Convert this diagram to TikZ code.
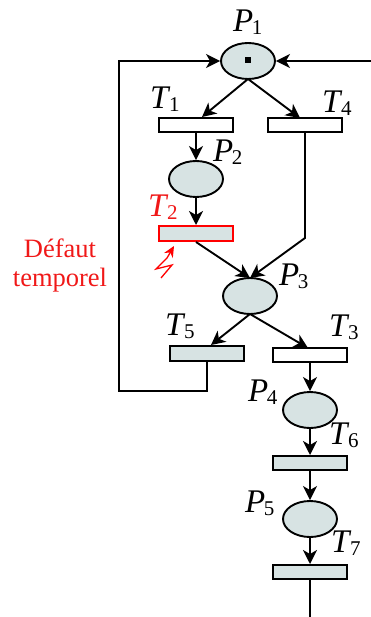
\documentclass[tikz,border=0pt]{standalone}
\usepackage{fontspec}
\setmainfont{Liberation Serif}
\usetikzlibrary{arrows.meta,shapes.geometric}
\definecolor{petri}{HTML}{D7E3E3}
\definecolor{defaut}{HTML}{F01818}
\newcommand{\lab}[2]{\textit{#1}\kern-1.5pt\raisebox{-3pt}{\fontsize{21}{21}\selectfont #2}}
\tikzset{
  pnplace/.style={ellipse,draw=black,line width=1.9pt,fill=petri,minimum width=54pt,minimum height=36pt,inner sep=0pt},
  pntrans/.style={rectangle,draw=black,line width=2pt,minimum width=74pt,minimum height=14pt,inner sep=0pt},
  greytrans/.style={pntrans,fill=petri},
  whitetrans/.style={pntrans,fill=white},
  pnlabel/.style={anchor=base west,inner sep=0pt,font=\fontsize{33}{33}\selectfont},
  pnarc/.style={draw=black,line width=1.9pt,-{Stealth[length=14pt,width=14pt,inset=4pt]}},
  pnline/.style={draw=black,line width=1.9pt}
}
\begin{document}
\begin{tikzpicture}[x=1pt,y=-1pt]
\useasboundingbox (0,0) rectangle (371,617);
\node[pnplace] (P1) at (248,61) {};
\node[whitetrans] (T1) at (196,125) {};
\node[whitetrans] (T4) at (305,125) {};
\node[pnplace] (P2) at (196,179) {};
\node[greytrans,draw=red,minimum height=15pt] (T2) at (196,233.5) {};
\node[pnplace] (P3) at (250,296) {};
\node[greytrans,minimum height=15pt] (T5) at (207,353.5) {};
\node[whitetrans] (T3) at (310,355) {};
\node[pnplace] (P4) at (310,410) {};
\node[greytrans] (T6) at (310,463) {};
\node[pnplace] (P5) at (310,519) {};
\node[greytrans] (T7) at (310,572) {};
\node[rectangle,fill=black,minimum size=6pt,inner sep=0pt] (tok) at (248,60.5) {};
\node[pnlabel] (LP1) at (233,32) {\lab{P}{1}};
\node[pnlabel] (LT1) at (150,109) {\lab{T}{1}};
\node[pnlabel] (LT4) at (322,113) {\lab{T}{4}};
\node[pnlabel] (LP2) at (213,162) {\lab{P}{2}};
\node[pnlabel,text=defaut] (LT2) at (148,217) {\lab{T}{2}};
\node[pnlabel] (LP3) at (279,285) {\lab{P}{3}};
\node[pnlabel] (LT5) at (165,335) {\lab{T}{5}};
\node[pnlabel] (LT3) at (329,336) {\lab{T}{3}};
\node[pnlabel] (LP4) at (248,401) {\lab{P}{4}};
\node[pnlabel] (LT6) at (329,444) {\lab{T}{6}};
\node[pnlabel] (LP5) at (245,512) {\lab{P}{5}};
\node[pnlabel] (LT7) at (331,552) {\lab{T}{7}};
\node[align=center,text=defaut,font=\fontsize{26.5}{29}\selectfont,inner sep=0pt] (def) at (60,265) {Défaut\\temporel};
\coordinate (rightend) at (371,61);
\coordinate (botend) at (310,617);
\coordinate (c1) at (207,391);
\coordinate (c2) at (119,391);
\coordinate (c3) at (119,61);
\coordinate (c4) at (305,238);
\coordinate (Pb1) at (248,79);
\coordinate (Pb3) at (250,314);
\draw[pnarc] (T5.south) -- (c1) -- (c2) -- (c3) -- (P1.west);
\draw[pnarc] (rightend) -- (P1.east);
\draw[pnarc] (Pb1) -- (202,117);
\draw[pnarc] (Pb1) -- (300,118);
\draw[pnarc] (T1.south) -- (P2.north);
\draw[pnarc] (P2.south) -- (T2.north);
\draw[pnarc] (T2.south) -- (250,278);
\draw[pnarc] (T4.south) -- (c4) -- (250,278);
\draw[pnarc] (Pb3) -- (211,345);
\draw[pnarc] (Pb3) -- (308,348);
\draw[pnarc] (T3.south) -- (P4.north);
\draw[pnarc] (P4.south) -- (T6.north);
\draw[pnarc] (T6.south) -- (P5.north);
\draw[pnarc] (P5.south) -- (T7.north);
\draw[pnline] (T7.south) -- (botend);
\coordinate (z0) at (161,278);
\coordinate (z1) at (172,265);
\coordinate (z2) at (156,269);
\coordinate (z3) at (167,258);
\coordinate (z4) at (174,246);
\draw[draw=red,line width=1.3pt,-{Stealth[length=11pt,width=10pt]}] (z0) -- (z1) -- (z2) -- (z3) -- (z4);
\end{tikzpicture}
\end{document}
